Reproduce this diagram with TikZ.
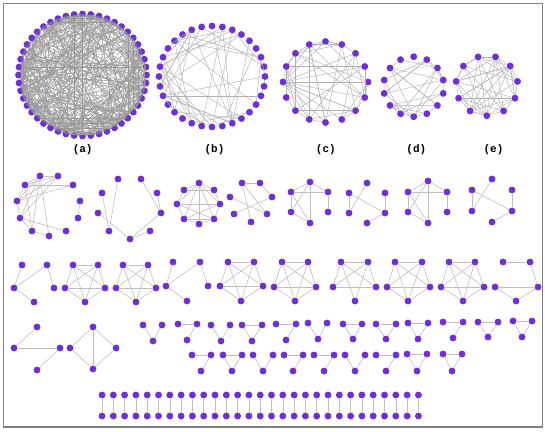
\documentclass[tikz,border=0pt]{standalone}
\usepackage{fontspec}
\newfontfamily\labfont{Liberation Mono}
\definecolor{nodecol}{HTML}{6C30D4}
\definecolor{framecol}{HTML}{808080}
\tikzset{
  v/.style={circle, fill=nodecol, inner sep=0pt, minimum size=6.9pt, draw=none},
  e/.style={draw=gray!50, line width=0.6pt},
  ea/.style={draw=gray!80, line width=0.35pt},
  eb/.style={draw=gray!60, line width=0.45pt},
  lab/.style={font=\labfont\bfseries\fontsize{11}{13}\selectfont, inner sep=0pt}
}
\newcommand\mkg[3]{%
  \foreach \nn/\xx/\yy in {#2}{\node[v] (#1\nn) at (\xx,\yy) {};}%
  \foreach \aa/\bb in {#3}{\draw[e] (#1\aa) -- (#1\bb);}%
}
% prefix, n, n-1, count, style
\newcommand\randedges[5]{%
  \foreach \k in {1,...,#4}{%
    \pgfmathrandominteger{\ru}{1}{#2}%
    \pgfmathrandominteger{\rv}{1}{#3}%
    \pgfmathtruncatemacro\rw{mod(\ru+\rv-1,#2)+1}%
    \draw[#5] (#1\ru) -- (#1\rw);
  }}
\newcommand\mkring[6]{% prefix, n, cx, cy, rx, ry (first node at top)
  \foreach \i in {1,...,#2}{%
    \pgfmathsetmacro\ang{90-(\i-1)*(360/#2)}%
    \node[v] (#1\i) at ({#3+#5*cos(\ang)},{#4-#6*sin(\ang)}) {};
  }}
\begin{document}
\begin{tikzpicture}[x=1pt,y=-1pt]
\useasboundingbox (0,0) rectangle (545,431);
\draw[framecol, line width=1.5pt] (3.5,3.5) rectangle (542.5,427);
\pgfmathsetseed{4217}
% (a)
\mkring{ga}{48}{82.5}{75}{64}{61}
\randedges{ga}{48}{47}{420}{ea}
% (b)
\mkring{gb}{32}{212}{76.5}{53}{50.5}
\randedges{gb}{32}{31}{48}{eb}
% (c)
\mkring{gc}{16}{325.5}{82}{42.5}{40.5}
\foreach \j in {3,4,5,6,7,8,9,10}{\draw[eb] (gc13) -- (gc\j);}
\foreach \a/\b in {1/2,2/3,13/14,14/15,15/16,16/1,9/10,10/11,11/12,5/6,6/7,7/8}{\draw[eb] (gc\a) -- (gc\b);}
\randedges{gc}{16}{15}{34}{eb}
% (d)
\mkring{gd}{14}{413.7}{86.7}{30.3}{30}
\foreach \a/\b in {6/7,7/8,8/9,9/10,3/4,4/5}{\draw[eb] (gd\a) -- (gd\b);}
\randedges{gd}{14}{13}{26}{eb}
% (e)
\foreach \i in {1,...,11}{%
  \pgfmathsetmacro\ang{90-360/22-(\i-1)*(360/11)}%
  \node[v] (ge\i) at ({486.8+31*cos(\ang)},{85.7-30*sin(\ang)}) {};
}
\foreach \i in {1,...,10}{\pgfmathtruncatemacro\j{\i+1}\draw[eb] (ge\i) -- (ge\j);}
\draw[eb] (ge11) -- (ge1);
\randedges{ge}{11}{10}{36}{eb}
% labels
\node[lab] (la) at (82.7,150) {(a)};
\node[lab] (lb) at (214.5,150) {(b)};
\node[lab] (lc) at (325.8,150) {(c)};
\node[lab] (ld) at (416.3,150) {(d)};
\node[lab] (le) at (493.5,150) {(e)};
% row 2
\mkg{ua}{1/40/176,2/58/176,3/73/185,4/80/201,5/78/218,6/66/231,7/49/236,8/32/231,9/20/218,10/17/201,11/25/185}
 {1/2,1/11,1/10,1/9,1/8,1/7,2/11,2/10,11/3,10/3,11/10,10/9,9/8,8/7,9/6,4/5,11/8,2/9}
\mkg{ub}{1/118/179,2/141/179,3/102/193,4/157/193,5/98/213,6/161/213,7/109/231,8/150/231,9/130/239}
 {1/7,3/7,5/9,9/6,9/8,2/6,4/6}
\mkg{uc}{1/199/183,2/184/190,3/214/190,4/177/204,5/220/204,6/184/219,7/214/219,8/199/224}
 {1/2,1/3,1/4,1/5,1/6,1/7,1/8,2/4,3/5,4/5,4/6,5/7,6/8,7/8,4/7,5/6,6/7,2/3}
\mkg{ud}{1/242/183,2/260/183,3/272/197,4/230/197,5/234/214,6/267/214,7/251/222}
 {1/2,2/3,1/7,1/6,4/6,3/5}
\mkg{ue}{1/310/182,2/291/192,3/328/192,4/291/212,5/328/212,6/310/223}
 {1/2,1/3,2/3,1/6,2/4,3/5,4/6,2/6,1/4}
\mkg{uf}{1/367/183,2/349/193,3/385/193,4/349/213,5/385/213,6/367/223}
 {1/4,2/4,2/5,3/5,5/6}
\mkg{ug}{1/428/181,2/408/192,3/447/192,4/408/212,5/447/212,6/428/223}
 {1/2,1/3,2/3,1/6,2/4,3/5,4/6,2/6,1/4}
\mkg{uh}{1/492/179,2/472/190,3/512/190,4/472/211,5/512/211,6/492/222}
 {1/4,2/4,2/5,3/5,5/6}
% row 3
\mkg{va}{1/22/265,2/47/265,3/14/288,4/54/288,5/34/302}{1/3,3/2,2/4,3/5}
\mkg{vb}{1/73/265,2/98/265,3/65/288,4/105/288,5/85/302}{1/2,1/3,1/4,1/5,2/3,2/4,2/5,3/4,3/5,4/5}
\mkg{vc}{1/123/265,2/148/265,3/116/288,4/156/288,5/136/302}{1/2,1/3,1/4,1/5,2/3,2/4,2/5,3/4,3/5,4/5}
\mkg{vd}{1/173/262,2/200/262,3/166/286,4/208/286,5/187/301}{1/3,3/2,2/4,3/5}
\mkg{ve}{1/228/262,2/254/262,3/220/286,4/263/286,5/241/301}{1/2,1/3,1/4,1/5,2/3,2/4,2/5,3/4,3/5,4/5}
\mkg{vf}{1/282/262,2/308/262,3/274/287,4/316/287,5/295/301}{1/2,1/3,1/4,1/5,2/3,2/4,2/5,3/4,3/5,4/5}
\mkg{vg}{1/341/262,2/368/262,3/333/287,4/376/287,5/355/301}{1/2,1/3,1/4,1/5,2/3,2/4,2/5,3/4}
\mkg{vh}{1/395/262,2/422/262,3/387/287,4/430/287,5/408/301}{1/2,1/3,1/4,1/5,2/3,2/4,2/5,3/4,3/5,4/5}
\mkg{vi}{1/449/262,2/475/262,3/441/287,4/484/287,5/463/301}{1/2,1/3,1/4,1/5,2/3,2/4,2/5,3/4,3/5,4/5}
\mkg{vj}{1/503/262,2/530/262,3/495/287,4/538/287,5/516/301}{1/2,2/4,3/4,3/5,5/4}
% row 4
\mkg{wa}{1/37/327,2/14/348,3/60/348,4/37/370}{1/2,2/3,3/4}
\mkg{wb}{1/93/327,2/70/348,3/116/348,4/93/369}{1/2,1/3,1/4,2/4,3/4}
% triples: type 0 = V, 1 = seven, 2 = triangle
\foreach \k/\xa/\xb/\xc/\ya/\yb/\t in {
  1/143/162/153/325/341/0, 2/178/197/187/324/340/1, 3/211/230/221/325/341/0,
  4/242/262/252/325/341/2, 5/276/296/286/324/340/1, 6/308/327/318/323/339/0,
  7/343/362/353/324/339/2, 8/376/396/386/324/339/2, 9/408/428/418/323/339/2,
  10/443/463/453/322/338/1, 11/478/498/488/322/337/2, 12/513/532/522/321/337/2,
  13/192/211/201/355/371/1, 14/223/242/232/355/371/2, 15/253/273/263/355/371/0,
  16/284/303/293/355/371/1, 17/314/334/324/355/371/1, 18/345/365/355/355/371/0,
  19/376/396/386/355/371/1, 20/407/427/417/354/371/2, 21/443/462/452/354/371/2}{
  \node[v] (ta\k) at (\xa,\ya) {};
  \node[v] (tb\k) at (\xb,\ya) {};
  \node[v] (tc\k) at (\xc,\yb) {};
  \ifnum\t>0 \draw[e] (ta\k) -- (tb\k); \fi
  \ifnum\t=1 \else \draw[e] (ta\k) -- (tc\k); \fi
  \draw[e] (tb\k) -- (tc\k);
}
% pairs
\foreach \i in {0,...,28}{
  \node[v] (pt\i) at ({102+11.3*\i},395) {};
  \node[v] (pb\i) at ({102+11.3*\i},416) {};
  \draw[e] (pt\i) -- (pb\i);
}
\end{tikzpicture}
\end{document}
